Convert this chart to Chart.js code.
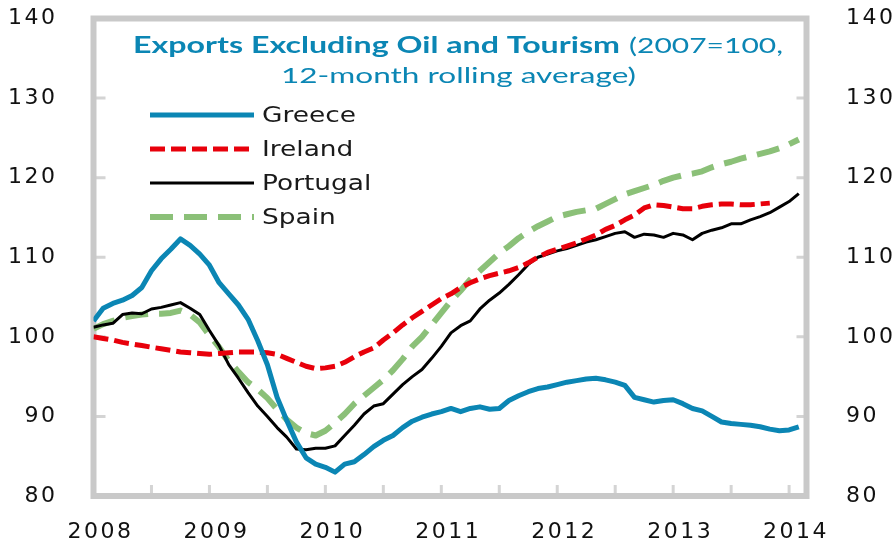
<!DOCTYPE html>
<html><head><meta charset="utf-8">
<script src="https://cdn.jsdelivr.net/npm/chart.js@4.4.1/dist/chart.umd.min.js"></script>
<style>html,body{margin:0;padding:0;background:#fff;overflow:hidden}canvas{display:block}</style>
</head><body>
<canvas id="c" width="892" height="546"></canvas>
<script>
// ---- data (month index 0 = Jan 2008) ----
const seriesNames = ['Greece', 'Ireland', 'Portugal', 'Spain'];
const greece = [102.0,103.6,104.2,104.6,105.2,106.2,108.3,109.8,111.0,112.3,111.5,110.4,
  109.0,106.8,105.4,104.0,102.2,99.5,96.5,92.4,89.5,86.8,84.8,84.0,
  83.6,83.0,84.0,84.3,85.2,86.2,87.0,87.6,88.6,89.4,89.9,90.3,
  90.6,91.0,90.6,91.0,91.2,90.9,91.0,92.0,92.6,93.1,93.5,93.7,
  94.0,94.3,94.5,94.7,94.8,94.6,94.3,93.9,92.4,92.1,91.8,92.0,
  92.1,91.6,91.0,90.7,90.0,89.3,89.1,89.0,88.9,88.7,88.4,88.2,
  88.3,88.7];
const ireland = [100.0,99.8,99.6,99.3,99.1,98.9,98.7,98.5,98.3,98.1,98.0,97.9,
  97.8,97.9,98.0,98.1,98.1,98.1,98.0,97.8,97.3,96.8,96.3,96.0,
  96.1,96.3,96.8,97.5,98.1,98.6,99.6,100.5,101.5,102.4,103.2,104.0,
  104.8,105.4,106.2,106.8,107.3,107.7,108.0,108.3,108.7,109.3,110.0,110.6,
  111.0,111.4,111.8,112.3,112.8,113.5,114.0,114.7,115.3,116.2,116.6,116.5,
  116.3,116.1,116.1,116.4,116.6,116.7,116.7,116.6,116.6,116.7,116.8];
const portugal = [101.2,101.5,101.7,102.8,103.0,102.9,103.5,103.7,104.0,104.3,103.6,102.8,
  100.8,98.9,96.5,94.8,93.0,91.3,90.0,88.6,87.4,85.9,85.8,86.0,
  86.0,86.3,87.6,88.9,90.3,91.3,91.6,92.8,94.0,95.0,95.9,97.3,
  98.8,100.5,101.4,102.0,103.5,104.6,105.5,106.6,107.8,109.1,110.0,110.4,
  110.8,111.1,111.5,111.9,112.2,112.6,113.0,113.2,112.5,112.9,112.8,112.5,
  113.0,112.8,112.2,113.0,113.4,113.7,114.2,114.2,114.7,115.1,115.6,116.3,
  117.0,118.0];
const spain = [101.0,101.6,102.0,102.4,102.6,102.8,102.9,102.9,103.0,103.3,102.8,101.8,
  100.2,98.7,97.0,95.6,94.3,93.4,92.3,90.9,89.6,88.6,87.9,87.6,
  88.2,89.2,90.3,91.6,92.6,93.6,94.6,95.8,97.2,98.8,100.0,101.5,
  103.0,104.5,105.8,107.2,108.3,109.4,110.5,111.4,112.4,113.2,113.9,114.5,
  115.1,115.4,115.7,115.9,116.1,116.7,117.3,117.9,118.3,118.7,119.1,119.6,
  120.0,120.3,120.5,120.8,121.3,121.7,122.0,122.4,122.7,123.0,123.3,123.7,
  124.2,124.8];
const xTickMonths = [0, 12, 24, 36, 48, 60, 72];
const xTickLabels = ['2008', '2009', '2010', '2011', '2012', '2013', '2014'];
const xMinorTicks = [6, 12, 18, 24, 30, 36, 42, 48, 54, 60, 66, 72];
const yTicks = [80, 90, 100, 110, 120, 130, 140];
const titleBold = 'Exports Excluding Oil and Tourism';
const titleRest = '(2007=100,';
const titleLine2 = '12-month rolling average)';

// ---- styles ----
const colors = ['#0b86b4', '#e8000b', '#000000', '#8bc078'];
const widths = [5, 5, 3, 6];
const dashes = [[], [15, 6], [], [23, 11]];
const FRAME = '#c9c9c9';
const TICKCOL = '#d4d4d4';
const TITLECOL = '#0b86b4';
const FONT = '"DejaVu Sans", sans-serif';
const TITLEFONT = 'Lato, "DejaVu Sans", sans-serif';

const toPts = arr => arr.map((v, i) => ({x: i, y: v}));
const seriesData = [greece, ireland, portugal, spain];

function drawFit(ctx, text, x, y, w) {
  const nat = ctx.measureText(text).width;
  ctx.save();
  ctx.translate(x, y);
  ctx.scale(w / nat, 1);
  ctx.fillText(text, 0, 0);
  ctx.restore();
}

const spacingPlugin = {
  id: 'spacing',
  beforeDraw(chart) { chart.ctx.letterSpacing = '2.5px'; }
};

const framePlugin = {
  id: 'frame',
  beforeDatasetsDraw(chart) {
    const {ctx, chartArea: a, scales} = chart;
    ctx.save();
    ctx.letterSpacing = '0px';
    ctx.strokeStyle = TICKCOL; ctx.lineWidth = 3;
    ctx.beginPath();
    yTicks.forEach(v => {
      if (v <= 80 || v >= 140) return;
      const y = scales.y.getPixelForValue(v);
      ctx.moveTo(a.left, y); ctx.lineTo(a.left + 12, y);
      ctx.moveTo(a.right, y); ctx.lineTo(a.right - 10, y);
    });
    xMinorTicks.forEach(m => {
      const x = scales.x.getPixelForValue(m);
      ctx.moveTo(x, a.bottom); ctx.lineTo(x, a.bottom - 11);
    });
    ctx.stroke();
    ctx.strokeStyle = FRAME; ctx.lineWidth = 6;
    ctx.strokeRect(a.left, a.top, a.right - a.left, a.bottom - a.top);
    ctx.restore();
  }
};

const annoPlugin = {
  id: 'anno',
  afterDatasetsDraw(chart) {
    const ctx = chart.ctx;
    ctx.save();
    ctx.letterSpacing = '0px';
    // title
    ctx.fillStyle = TITLECOL;
    ctx.textBaseline = 'alphabetic';
    ctx.textAlign = 'left';
    ctx.font = 'bold 22px ' + TITLEFONT;
    drawFit(ctx, titleBold, 133, 53, 487);
    ctx.font = '22px ' + TITLEFONT;
    drawFit(ctx, titleRest, 629, 53, 154);
    drawFit(ctx, titleLine2, 281, 83, 355);
    // legend
    const rows = [115, 149, 183, 217];
    chart.data.datasets.forEach((ds, i) => {
      const y = rows[i];
      ctx.save();
      ctx.strokeStyle = ds.borderColor;
      ctx.lineWidth = ds.borderWidth;
      ctx.setLineDash(ds.borderDash || []);
      ctx.beginPath();
      ctx.moveTo(150, y); ctx.lineTo(254, y);
      ctx.stroke();
      ctx.restore();
      ctx.fillStyle = '#1a1a1a';
      ctx.font = '22px ' + FONT;
      ctx.textBaseline = 'middle';
      const w = ctx.measureText(ds.label).width * 1.2;
      drawFit(ctx, ds.label, 262, y + 1, w);
    });
    ctx.restore();
  }
};

const tickFont = {family: FONT, size: 22};
const noPad = s => { s.paddingTop = 0; s.paddingBottom = 0; s.paddingLeft = 0; s.paddingRight = 0; };

new Chart(document.getElementById('c'), {
  type: 'line',
  data: {
    datasets: seriesNames.map((name, i) => ({
      label: name,
      data: toPts(seriesData[i]),
      borderColor: colors[i],
      backgroundColor: colors[i],
      borderWidth: widths[i],
      borderDash: dashes[i],
      pointRadius: 0,
      tension: 0,
      fill: false,
      borderJoinStyle: 'round',
      yAxisID: 'y'
    }))
  },
  options: {
    responsive: false,
    animation: false,
    devicePixelRatio: 1,
    layout: {padding: {top: 18.5, left: 0, right: 0, bottom: 0}},
    plugins: {legend: {display: false}, title: {display: false}, tooltip: {enabled: false}},
    scales: {
      x: {
        type: 'linear', position: 'bottom', min: 0, max: 73.8,
        grid: {display: false}, border: {display: false},
        afterBuildTicks: s => { s.ticks = xTickMonths.map(v => ({value: v})); },
        afterFit: s => { s.height = 50; noPad(s); },
        ticks: {
          autoSkip: false, maxRotation: 0, padding: 15, labelOffset: 7,
          color: '#111', font: tickFont,
          callback: v => xTickLabels[xTickMonths.indexOf(v)]
        }
      },
      y: {
        position: 'left', min: 80, max: 140,
        grid: {display: false}, border: {display: false},
        afterBuildTicks: s => { s.ticks = yTicks.map(v => ({value: v})); },
        afterFit: s => { s.width = 93.5; noPad(s); },
        ticks: {padding: 28, color: '#111', font: tickFont}
      },
      y2: {
        position: 'right', min: 80, max: 140,
        grid: {display: false}, border: {display: false},
        afterBuildTicks: s => { s.ticks = yTicks.map(v => ({value: v})); },
        afterFit: s => { s.width = 85.5; noPad(s); },
        ticks: {padding: 31.5, color: '#111', font: tickFont}
      }
    }
  },
  plugins: [spacingPlugin, framePlugin, annoPlugin]
});
</script>
</body></html>
